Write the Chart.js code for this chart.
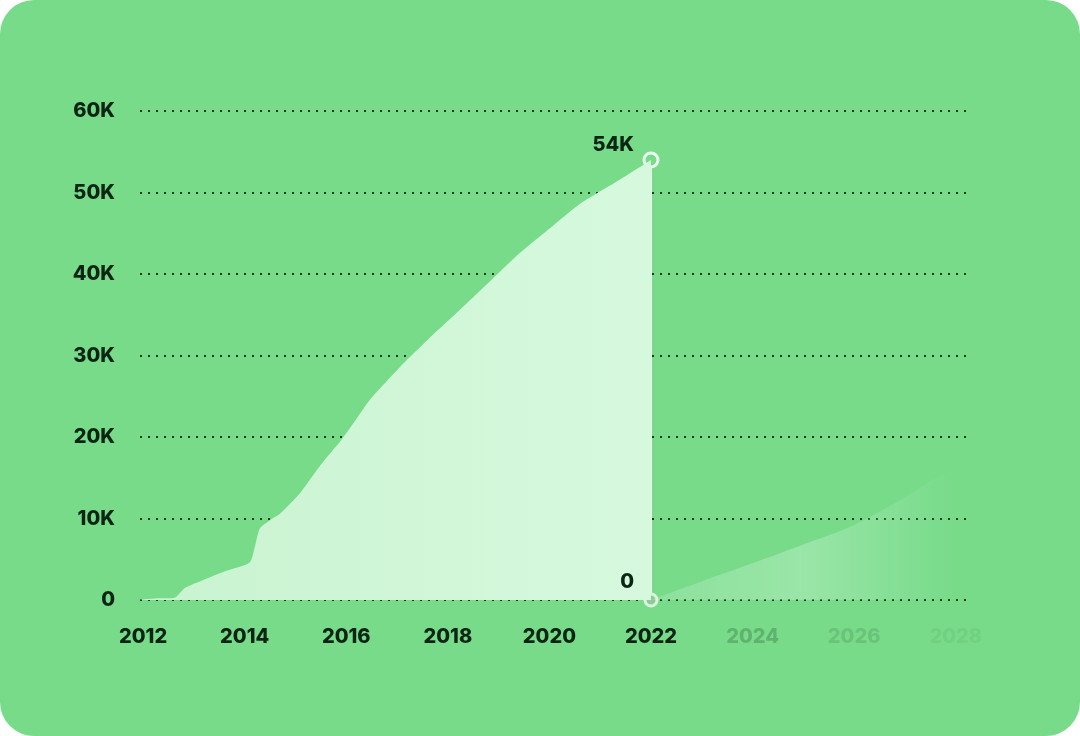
<!DOCTYPE html>
<html>
<head>
<meta charset="utf-8">
<script src="https://cdn.jsdelivr.net/npm/chart.js@4.4.1/dist/chart.umd.min.js"></script>
<style>
  html, body { margin: 0; padding: 0; background: #ffffff; }
  #card {
    width: 1080px; height: 736px;
    background: #78db8a;
    border-radius: 34px;
    overflow: hidden;
    position: relative;
  }
  canvas { display: block; }
</style>
</head>
<body>
<div id="card"><canvas id="growthChart" width="1080" height="736"></canvas></div>
<script>
// Growth chart: cumulative total up to 2022, then a faded projection

const tickYears = [2012, 2014, 2016, 2018, 2020, 2022, 2024, 2026, 2028];
const tickAlpha = [1, 1, 1, 1, 1, 1, 0.22, 0.13, 0.06];
const yTicks = [0, 10000, 20000, 30000, 40000, 50000, 60000];

// history (year, total)
const histYears = [2011.88, 2012.3, 2012.63, 2012.83, 2013.2, 2013.6, 2014.1, 2014.2, 2014.3, 2014.5, 2014.7, 2015.1, 2015.5, 2015.9, 2016.2, 2016.47, 2017.06, 2017.65, 2018.24, 2018.83, 2019.42, 2019.91, 2020.6, 2021.39, 2022];
const histValues = [0, 200, 300, 1500, 2500, 3500, 4600, 6500, 8800, 9800, 10600, 13200, 16600, 19600, 22200, 24600, 28600, 32200, 35600, 39100, 42600, 45100, 48600, 51600, 54000];

// projection after 2022
const projYears = [2022, 2023, 2024, 2025, 2026, 2027, 2027.6, 2028.3];
const projValues = [0, 2300, 4500, 6800, 9200, 12600, 15000, 17000];

const bg = '#78db8a';
const fill = '#d2f8da';
const ink = '#0c2414';
const fontFamily = 'Inter, "Liberation Sans", sans-serif';

const toPts = (xs, ys) => xs.map((x, i) => ({ x, y: ys[i] }));

const pointLabels = {
  id: 'pointLabels',
  afterDatasetsDraw(chart) {
    const { ctx, scales: { x, y } } = chart;
    ctx.save();
    ctx.font = '800 20px ' + fontFamily;
    ctx.fillStyle = ink;
    ctx.textAlign = 'right';
    ctx.textBaseline = 'middle';
    ctx.fillText('54K', x.getPixelForValue(2022) - 17, y.getPixelForValue(54000) - 15);
    ctx.fillText('0', x.getPixelForValue(2022) - 17, y.getPixelForValue(0) - 18);
    ctx.restore();
  }
};

const ctx = document.getElementById('growthChart');

new Chart(ctx, {
  type: 'line',
  data: {
    datasets: [
      {
        label: 'history',
        data: toPts(histYears, histValues),
        fill: 'origin',
        backgroundColor: (c) => {
          const a = c.chart.chartArea;
          if (!a) return fill;
          const g = c.chart.ctx.createLinearGradient(a.left, 0, c.chart.scales.x.getPixelForValue(2022), 0);
          g.addColorStop(0, '#c9f3d0');
          g.addColorStop(1, '#d6f9de');
          return g;
        },
        borderWidth: 0,
        pointRadius: 0,
        tension: 0.2
      },
      {
        label: 'projection',
        data: toPts(projYears, projValues),
        fill: 'origin',
        backgroundColor: (c) => {
          const a = c.chart.chartArea;
          if (!a) return 'rgba(215,248,220,0.3)';
          const xs = c.chart.scales.x;
          const g = c.chart.ctx.createLinearGradient(xs.getPixelForValue(2022), 0, xs.getPixelForValue(2028), 0);
          g.addColorStop(0, 'rgba(215,248,222,0.22)');
          g.addColorStop(0.5, 'rgba(215,248,222,0.36)');
          g.addColorStop(1, 'rgba(215,248,222,0)');
          return g;
        },
        borderWidth: 0,
        pointRadius: 0,
        tension: 0.3
      },
      {
        label: 'divider',
        data: [{ x: 2022, y: 0 }, { x: 2022, y: 54000 }],
        borderColor: 'rgba(236,255,240,0.95)',
        borderWidth: 2,
        pointRadius: [6, 7],
        pointBorderWidth: 3,
        pointBorderColor: ['#d8f6dd', '#eafff0'],
        pointBackgroundColor: ['#8fc99a', bg],
        fill: false,
        clip: false
      }
    ]
  },
  options: {
    responsive: false,
    animation: false,
    layout: { padding: { left: 0, top: 111, right: 108, bottom: 0 } },
    plugins: { legend: { display: false }, tooltip: { enabled: false } },
    scales: {
      x: {
        type: 'linear',
        min: 2011.94,
        max: 2028.32,
        afterFit: (s) => { s.height = 136; },
        afterBuildTicks: (s) => { s.ticks = tickYears.map(v => ({ value: v })); },
        border: { display: false },
        grid: { display: false, drawTicks: false },
        ticks: {
          padding: 25,
          maxRotation: 0,
          autoSkip: false,
          callback: (v) => String(v),
          color: (c) => {
            const i = tickYears.indexOf(c.tick.value);
            return `rgba(12,36,20,${tickAlpha[i] ?? 1})`;
          },
          font: { family: fontFamily, size: 20, weight: '800' }
        }
      },
      y: {
        min: 0,
        max: 60000,
        afterFit: (s) => { s.width = 140; },
        afterBuildTicks: (s) => { s.ticks = yTicks.map(v => ({ value: v })); },
        border: { display: false, dash: [2, 6] },
        grid: {
          drawTicks: false,
          color: 'rgba(10,40,18,0.9)',
          lineWidth: 2
        },
        ticks: {
          padding: 25,
          color: ink,
          callback: (v) => v === 0 ? '0' : (v / 1000) + 'K',
          font: { family: fontFamily, size: 20, weight: '800' }
        }
      }
    }
  },
  plugins: [pointLabels]
});
</script>
</body>
</html>
